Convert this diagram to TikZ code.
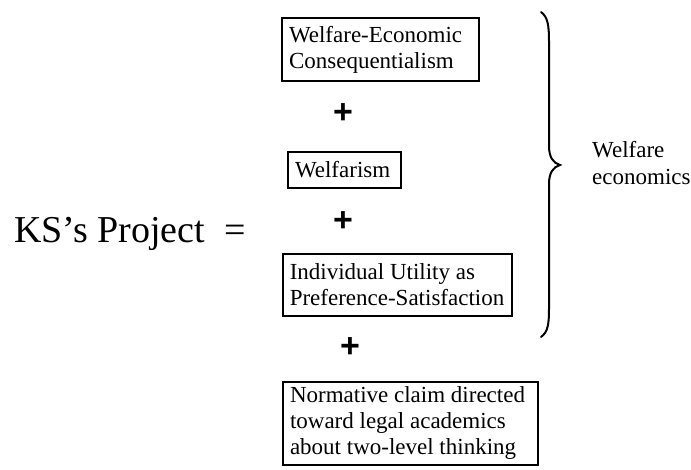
\documentclass[tikz,border=0pt]{standalone}
\usepackage{fontspec}
\setmainfont{Liberation Serif}
\newfontfamily\plusfont{Liberation Sans}
\begin{document}
\begin{tikzpicture}[x=1pt,y=-1pt,
  box/.style={draw, line width=1.1pt, inner xsep=7pt, inner ysep=0pt, align=flush left,
    font=\fontsize{23}{26}\selectfont},
  plussign/.style={font=\plusfont\bfseries\fontsize{34}{34}\selectfont, inner sep=0pt},
  bracestyle/.style={line width=2pt, line cap=round}
]
\useasboundingbox (0,0) rectangle (691,470);

\node[box, text width=183pt, minimum height=63pt] (b1) at (380.5,49.5)
  {Welfare-Economic\\Consequentialism};
\node[plussign] (p1) at (343,114) {+};
\node[box, text width=99pt, minimum height=36pt] (b2) at (344.5,170) {Welfarism};
\node[plussign] (p2) at (343,222) {+};
\node[box, text width=215.5pt, inner xsep=6.75pt, minimum height=62pt] (b3) at (397.5,285)
  {Individual Utility as\\Preference-Satisfaction};
\node[plussign] (p3) at (350,348) {+};
\node[box, text width=241pt, minimum height=83pt] (b4) at (410.5,423.5)
  {Normative claim directed\\toward legal academics\\about two-level thinking};

\node[anchor=base west, inner sep=0pt, font=\fontsize{38}{40}\selectfont] (ks) at (14,243)
  {KS’s Project\hspace{19pt}=};

\node[anchor=base west, inner sep=0pt, align=left, font=\fontsize{23}{27}\selectfont] (we) at (592,185)
  {Welfare\\economics};

\coordinate (bt) at (541,12);
\coordinate (btip) at (560,165);
\coordinate (bb) at (541,337);
\draw[bracestyle] (bt) .. controls (548,17) and (549,26) .. (549,42) -- (549,146)
  .. controls (549,157) and (553,163) .. (btip)
  .. controls (553,167) and (549,173) .. (549,184) -- (549,308)
  .. controls (549,324) and (548,332) .. (bb);
\end{tikzpicture}
\end{document}
